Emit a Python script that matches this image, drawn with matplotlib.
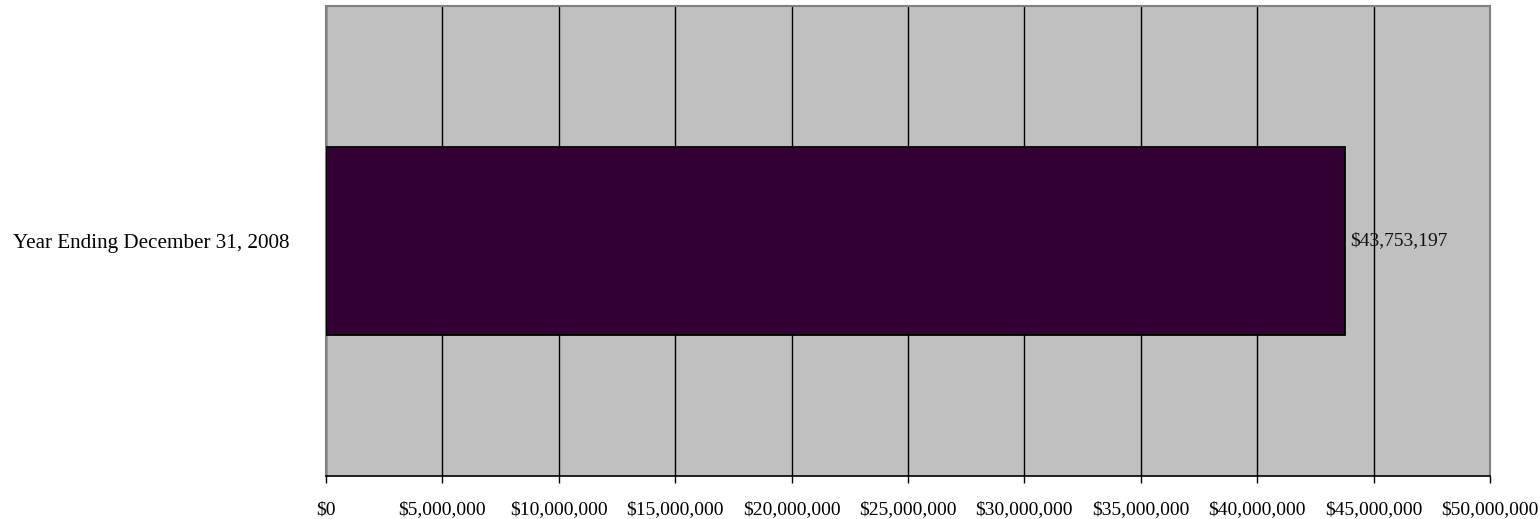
import matplotlib
matplotlib.use("Agg")
import matplotlib.pyplot as plt
from matplotlib.ticker import FuncFormatter

categories = ["Year Ending December 31, 2008"]
values = [43753197]
x_ticks = list(range(0, 50000001, 5000000))

plt.rcParams['font.family'] = ['Liberation Serif', 'DejaVu Serif']

fig = plt.figure(figsize=(15.4, 5.19), dpi=100)
W, H = 1540, 519
ax = fig.add_axes([326 / W, (H - 476) / H, (1490 - 326) / W, (476 - 6) / H])
ax.set_facecolor("#C0C0C0")

ax.set_xlim(0, 50000000)
ax.set_ylim(-0.5, 0.5)
ax.set_xticks(x_ticks)
ax.xaxis.set_major_formatter(FuncFormatter(lambda v, p: f"${v:,.0f}"))
ax.grid(axis="x", color="black", linewidth=1.0)
ax.set_axisbelow(True)

ypos = list(range(len(categories)))
bars = ax.barh(ypos, values, height=0.4, color="#330033",
               edgecolor="black", linewidth=1.3, zorder=3)
ax.set_yticks(ypos)
ax.set_yticklabels(categories)

for b, v in zip(bars, values):
    ax.text(v + 250000, b.get_y() + b.get_height() / 2, f"${v:,.0f}",
            va="center", ha="left", fontsize=14, color="#111111", zorder=4)

for side in ("top", "right", "left"):
    ax.spines[side].set_color("#808080")
    ax.spines[side].set_linewidth(1.5)
ax.spines["bottom"].set_color("black")
ax.spines["bottom"].set_linewidth(1.2)

ax.tick_params(axis="x", length=5, width=1, color="black", pad=13, labelsize=14)
ax.tick_params(axis="y", length=0, pad=26, labelsize=15.2)

fig.savefig("out.png", dpi=100, facecolor="white")
